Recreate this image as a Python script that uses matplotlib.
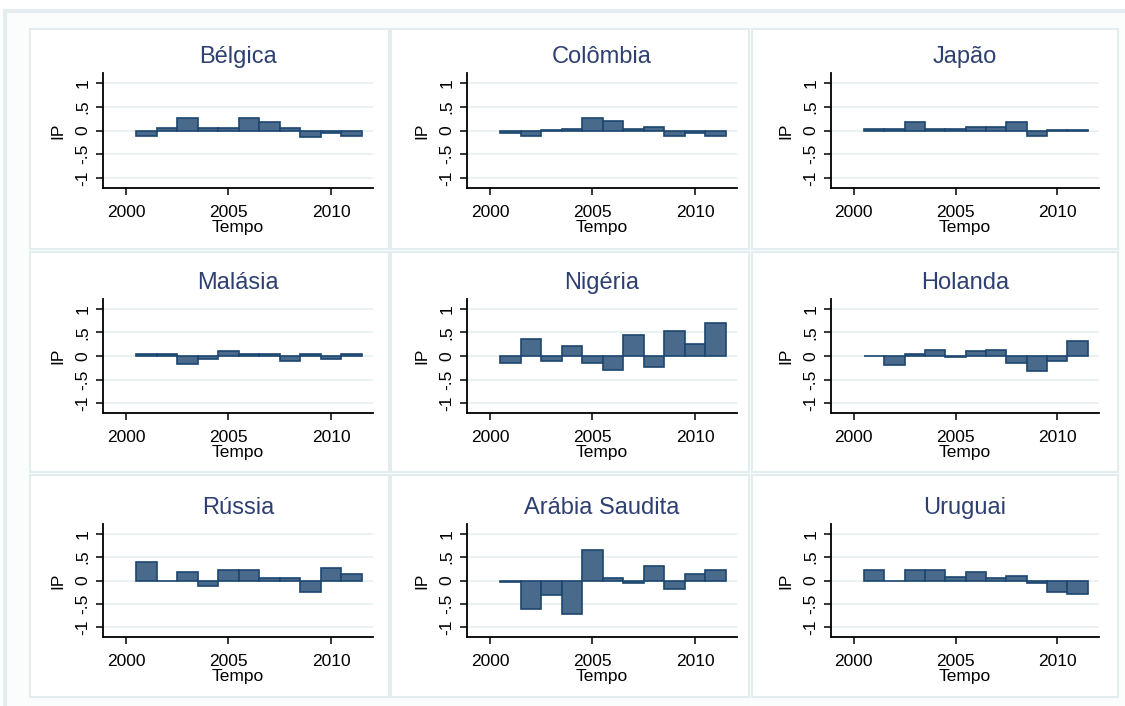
import matplotlib
matplotlib.use("Agg")
import matplotlib.pyplot as plt
from matplotlib.patches import Rectangle

# ------------------------------ Data ------------------------------

YEARS = [2001, 2002, 2003, 2004, 2005, 2006, 2007, 2008, 2009, 2010, 2011]

COUNTRIES = ["Bélgica", "Colômbia", "Japão",
             "Malásia", "Nigéria", "Holanda",
             "Rússia", "Arábia Saudita", "Uruguai"]

belgica  = [-0.11, 0.05, 0.26, 0.05, 0.05, 0.26, 0.17, 0.05, -0.14, -0.05, -0.11]
colombia = [-0.06, -0.12, 0.01, 0.04, 0.26, 0.21, 0.04, 0.08, -0.12, -0.05, -0.12]
japao    = [0.04, 0.04, 0.17, 0.04, 0.04, 0.08, 0.08, 0.17, -0.12, 0.01, 0.01]
malasia  = [0.04, 0.04, -0.16, -0.06, 0.10, 0.04, 0.04, -0.11, 0.04, -0.06, 0.04]
nigeria  = [-0.14, 0.36, -0.11, 0.22, -0.14, -0.29, 0.45, -0.24, 0.53, 0.26, 0.71]
holanda  = [0.01, -0.19, 0.05, 0.13, -0.02, 0.10, 0.13, -0.14, -0.31, -0.10, 0.31]
russia   = [0.40, -0.02, 0.18, -0.11, 0.22, 0.22, 0.05, 0.05, -0.24, 0.26, 0.13]
arabia   = [-0.04, -0.62, -0.30, -0.71, 0.66, 0.05, -0.06, 0.30, -0.19, 0.13, 0.22]
uruguai  = [0.22, -0.02, 0.22, 0.22, 0.08, 0.18, 0.05, 0.09, -0.06, -0.24, -0.29]

SERIES = [belgica, colombia, japao, malasia, nigeria, holanda, russia, arabia, uruguai]

YTICKS = [-1, -0.5, 0, 0.5, 1]
YTICKLABELS = ["-1", "-.5", "0", ".5", "1"]
XTICKS = [2000, 2005, 2010]

# ------------------------------ Style ------------------------------

W, H = 1125, 706
BAR_FILL = "#4a6a8c"
BAR_EDGE = "#1c4670"
TITLE_C = "#2e3f72"
GRID_C = "#e6eff1"
FRAME_C = "#e3ecee"

plt.rcParams.update({
    "font.family": ["Liberation Sans", "DejaVu Sans"],
    "font.size": 12.5,
})

# panel boxes (pixels) and axes boxes inside them
PANEL_X = [(30, 389), (391, 749), (752, 1118)]
PANEL_Y = [(29, 249), (252, 472), (475, 697)]
AX_X = [(103, 373), (467, 737), (831, 1099)]
AX_Y = [(73, 188), (299, 413), (524, 637)]

fig = plt.figure(figsize=(W / 100, H / 100), dpi=100)
fig.patch.set_facecolor("white")

def _frac(x0, x1, y0, y1):
    return [x0 / W, 1 - y1 / H, (x1 - x0) / W, (y1 - y0) / H]

# outer frame
l, b, w, h = _frac(5, 1135, 11, 720)
fig.patches.append(Rectangle((l, b), w, h, transform=fig.transFigure,
                             facecolor="#fbfdfd", edgecolor=FRAME_C, lw=3, zorder=-3))

for i, (name, vals) in enumerate(zip(COUNTRIES, SERIES)):
    r, c = divmod(i, 3)
    px0, px1 = PANEL_X[c]
    py0, py1 = PANEL_Y[r]
    l, b, w, h = _frac(px0, px1, py0, py1)
    fig.patches.append(Rectangle((l, b), w, h, transform=fig.transFigure,
                                 facecolor="white", edgecolor=FRAME_C, lw=1.5, zorder=-2))

    ax = fig.add_axes(_frac(AX_X[c][0], AX_X[c][1], AX_Y[r][0], AX_Y[r][1]))
    ax.set_facecolor("none")
    ax.bar(YEARS, vals, width=1.0, color=BAR_FILL, edgecolor=BAR_EDGE, lw=1.2, zorder=3)

    ax.set_xlim(1998.88, 2012.05)
    ax.set_ylim(-1.21, 1.21)
    ax.set_yticks(YTICKS)
    ax.set_yticklabels(YTICKLABELS)
    ax.set_xticks(XTICKS)
    for lab in ax.get_yticklabels():
        lab.set_rotation(90)
        lab.set_va("center")
    ax.tick_params(axis="both", length=5, width=1.1, colors="black")
    ax.tick_params(axis="y", pad=4)
    ax.tick_params(axis="x", pad=7)
    ax.grid(axis="y", color=GRID_C, lw=1.2, zorder=0)
    ax.set_axisbelow(True)
    for s in ("top", "right"):
        ax.spines[s].set_visible(False)
    for s in ("left", "bottom"):
        ax.spines[s].set_linewidth(1.3)

    ax.set_title(name, fontsize=17, color=TITLE_C, pad=7)
    ax.set_ylabel("IP", labelpad=7)
    ax.set_xlabel("Tempo", labelpad=0)

fig.savefig("out.png", dpi=100)
